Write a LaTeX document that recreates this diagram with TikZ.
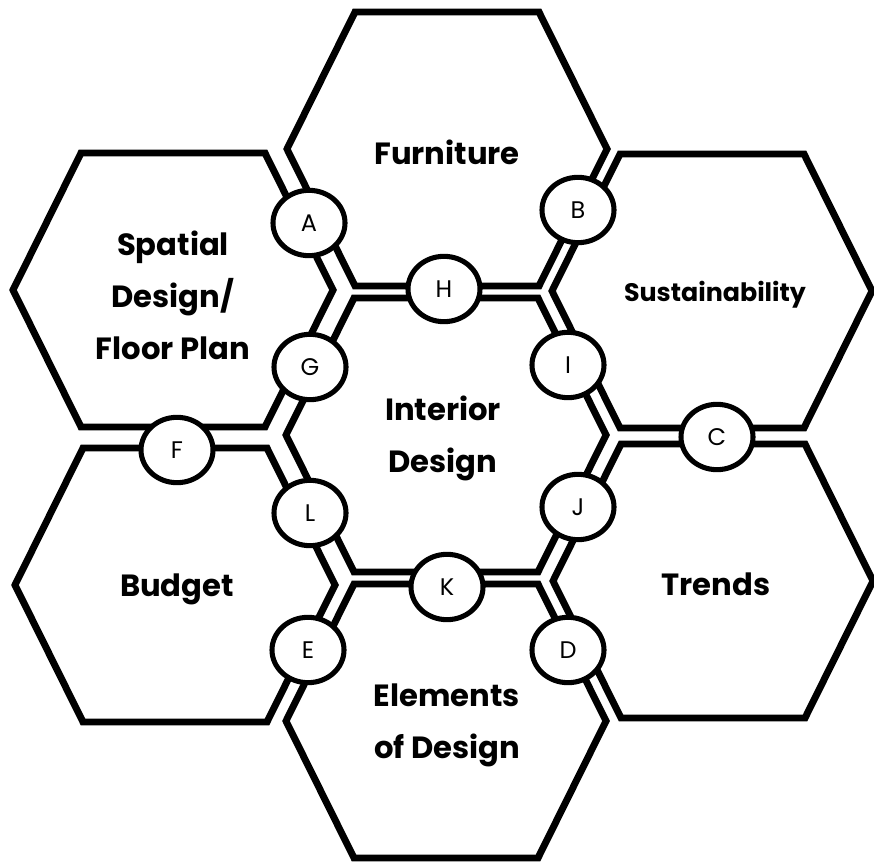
\documentclass[tikz,border=0pt]{standalone}
\usepackage{fontspec}
\setmainfont{Poppins}
\usetikzlibrary{shapes.geometric}

\begin{document}
\begin{tikzpicture}[x=0.75pt,y=-0.75pt,
    hexline/.style={line width=5.2pt, line join=miter},
    hexlabel/.style={align=center, font=\fontsize{23}{39}\selectfont\bfseries},
    hexsmall/.style={hexlabel, font=\fontsize{19}{24}\selectfont\bfseries},
    tag/.style={ellipse, draw, line width=3.8pt, fill=white, inner sep=0pt,
      minimum width=54pt, minimum height=49pt, font=\fontsize{18}{22}\selectfont}]
  \useasboundingbox (0,0) rectangle (874,862);
  % hexagon outlines, one per topic
  \foreach \cx/\cy in {446/435, 447/149, 446/721, 173/290, 175/585, 712/291, 713/581}
    \draw[hexline, shift={(\cx,\cy)}] (-160,0) -- (-92,-137) -- (92,-137) -- (160,0)
      -- (92,137) -- (-92,137) -- cycle;
  % topics
  \node[hexlabel] (core) at (443,438) {Interior\\Design};
  \node[hexlabel] (furniture) at (447,152) {Furniture};
  \node[hexlabel] (elements) at (447,725) {Elements\\of Design};
  \node[hexlabel] (spatial) at (173,295) {Spatial\\Design/\\Floor Plan};
  \node[hexlabel] (budget) at (177,589) {Budget};
  \node[hexsmall] (sustain) at (715,295) {Sustainability};
  \node[hexlabel] (trends) at (716,584) {Trends};
  % junction tags
  \node[tag] (A) at (309,223) {A};
  \node[tag] (B) at (578,210) {B};
  \node[tag] (C) at (717,437) {C};
  \node[tag] (D) at (568,650) {D};
  \node[tag] (E) at (308,650) {E};
  \node[tag] (F) at (177,450) {F};
  \node[tag] (G) at (310,367) {G};
  \node[tag] (H) at (444,289) {H};
  \node[tag] (I) at (568,365) {I};
  \node[tag] (J) at (578,507) {J};
  \node[tag] (K) at (447,587) {K};
  \node[tag] (L) at (310,513) {L};
\end{tikzpicture}
\end{document}
